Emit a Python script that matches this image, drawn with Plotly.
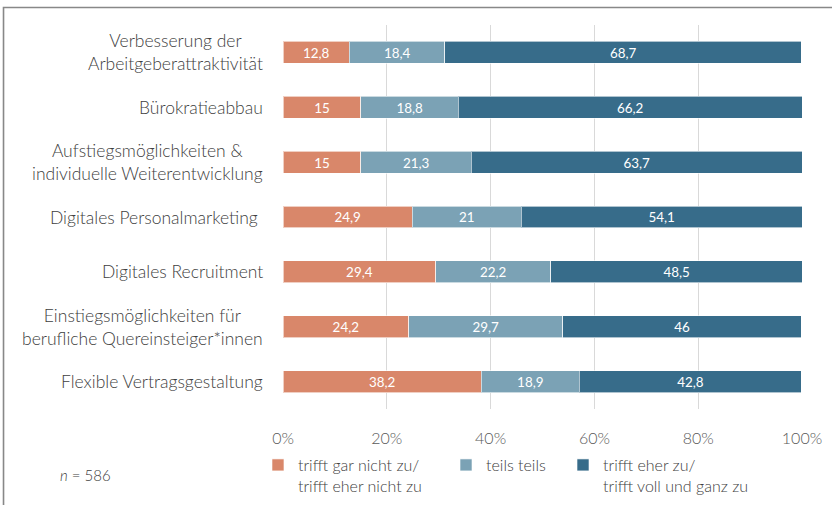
import plotly.graph_objects as go

categories = [
    "Verbesserung der<br>Arbeitgeberattraktivität",
    "Bürokratieabbau",
    "Aufstiegsmöglichkeiten &<br>individuelle Weiterentwicklung",
    "Digitales Personalmarketing ",
    "Digitales Recruitment",
    "Einstiegsmöglichkeiten für<br>berufliche Quereinsteiger*innen",
    "Flexible Vertragsgestaltung",
]
cat_ids = ["c%d" % i for i in range(len(categories))]

series_names = [
    "trifft gar nicht zu/<br>trifft eher nicht zu",
    "teils teils",
    "trifft eher zu/<br>trifft voll und ganz zu",
]
neg_values = [12.8, 15, 15, 24.9, 29.4, 24.2, 38.2]
mid_values = [18.4, 18.8, 21.3, 21, 22.2, 29.7, 18.9]
pos_values = [68.7, 66.2, 63.7, 54.1, 48.5, 46, 42.8]
series_values = [neg_values, mid_values, pos_values]
colors = ["#D9876A", "#7BA2B5", "#376C8A"]

tick_vals = [0, 20, 40, 60, 80, 100]
tick_text = ["0%", "20%", "40%", "60%", "80%", "100%"]
n_label = "<i>n</i> = 586"

FONT = "Lato"

def fmt(v):
    return ("%g" % v).replace(".", ",")

fig = go.Figure()
legend_ids = ["legend", "legend2", "legend3"]
for name, vals, col, lg in zip(series_names, series_values, colors, legend_ids):
    fig.add_trace(go.Bar(
        y=cat_ids, x=vals, orientation="h", name=name,
        marker=dict(color=col, line=dict(color="rgba(255,255,255,0.6)", width=1)),
        text=[fmt(v) for v in vals], textposition="inside",
        insidetextanchor="middle", textangle=0,
        textfont=dict(color="white", size=16, family=FONT, weight=400),
        hoverinfo="skip", legend=lg, showlegend=True,
    ))

for cid, lab in zip(cat_ids, categories):
    fig.add_annotation(x=-0.0347, y=cid, xref="paper", yref="y", text=lab,
                       showarrow=False, xanchor="right", align="center",
                       font=dict(size=17.5, color="#404040", family=FONT, weight=300))

fig.add_annotation(x=-0.4335, y=-0.1719, xref="paper", yref="paper", text=n_label,
                   showarrow=False, xanchor="left", yanchor="middle",
                   font=dict(size=15, color="#404040", family=FONT, weight=300))

# outer frame
fig.add_shape(type="rect", xref="paper", yref="paper",
              x0=-0.5385, x1=1.08, y0=-0.3, y1=1.0456,
              line=dict(color="#888888", width=1.6), fillcolor="rgba(0,0,0,0)",
              layer="below")

legend_common = dict(orientation="h", xanchor="left", yanchor="top",
                     font=dict(size=16, color="#404040", family=FONT, weight=300),
                     valign="top", bgcolor="rgba(0,0,0,0)", itemclick=False)
fig.update_layout(
    legend=dict(x=-0.0482, y=-0.1016, **legend_common),
    legend2=dict(x=0.3141, y=-0.1016, **legend_common),
    legend3=dict(x=0.5395, y=-0.1016, **legend_common),
)

fig.update_layout(
    width=832, height=505,
    margin=dict(l=283, r=30, t=25, b=96, autoexpand=False),
    barmode="stack", bargap=0.6,
    plot_bgcolor="white", paper_bgcolor="white",
    font=dict(family=FONT, color="#595959"),
    xaxis=dict(range=[0, 100], tickvals=tick_vals, ticktext=tick_text,
               showgrid=True, gridcolor="#D9D9D9", gridwidth=1,
               zeroline=False, showline=False, fixedrange=True,
               tickfont=dict(size=16, color="#595959", family=FONT, weight=300),
               ticks="", ticklabelstandoff=18),
    yaxis=dict(categoryorder="array", categoryarray=cat_ids,
               autorange="reversed", showticklabels=False, showgrid=False,
               zeroline=False, fixedrange=True),
    uniformtext=dict(mode="show", minsize=10),
)

fig.write_html("out.html", config={"displayModeBar": False},
               post_script="document.body.style.margin='0';document.body.style.overflow='hidden';")
